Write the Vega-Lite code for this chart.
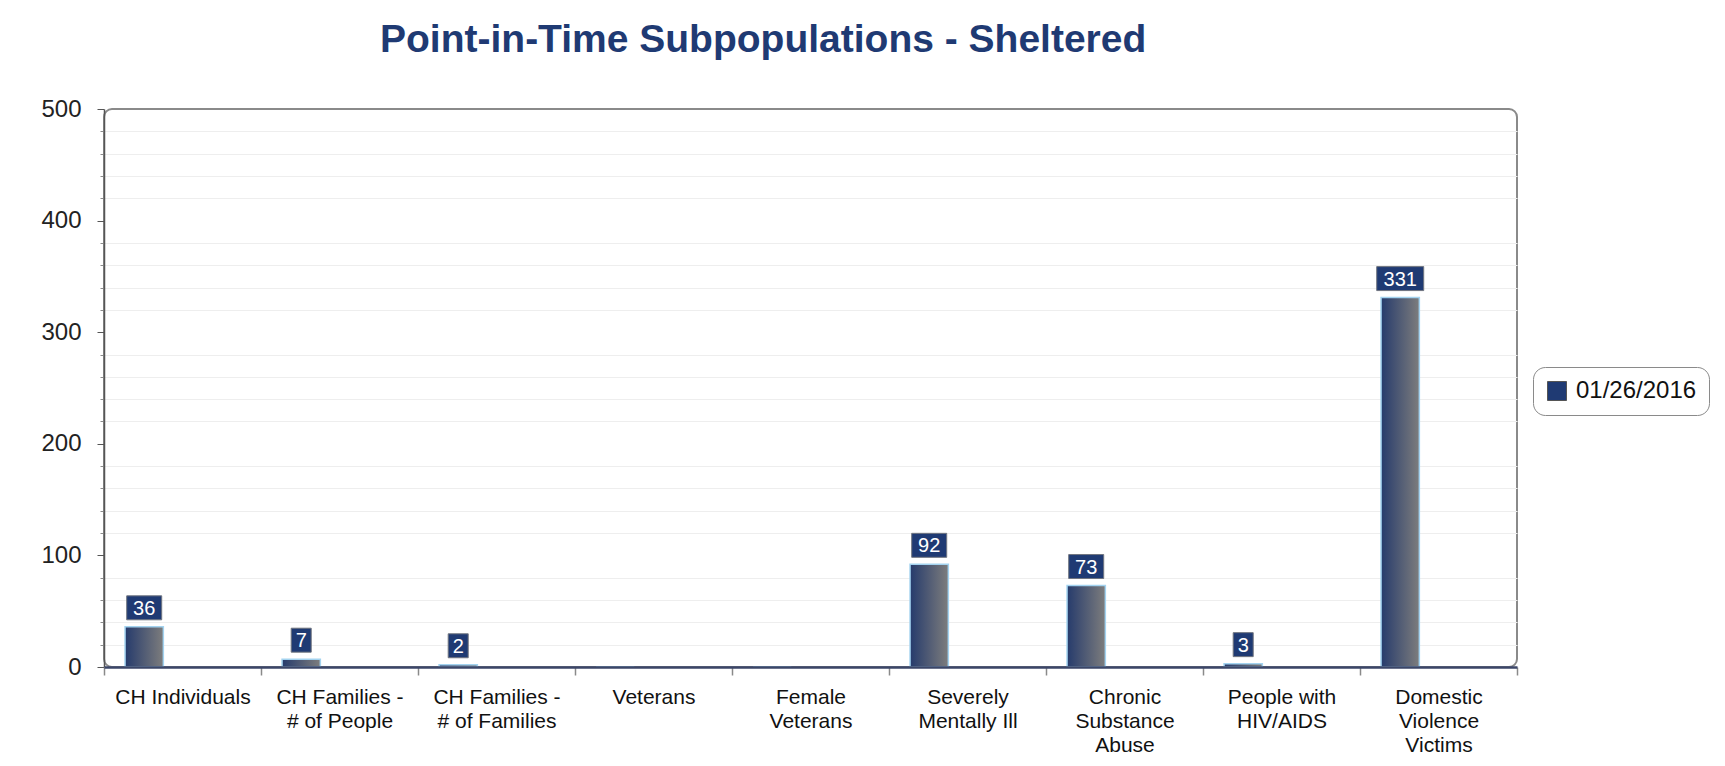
{
  "$schema": "https://vega.github.io/schema/vega-lite/v6.json",
  "width": 1413,
  "height": 558,
  "autosize": {"type": "none"},
  "padding": {"left": 104, "top": 109, "right": 208, "bottom": 99},
  "background": "white",
  "title": {
    "text": "Point-in-Time Subpopulations - Sheltered",
    "anchor": "start",
    "frame": "group",
    "dx": 276,
    "offset": 37,
    "fontSize": 39,
    "font": "Liberation Sans",
    "fontWeight": "bold",
    "color": "#1f3a73"
  },
  "data": {
    "values": [
      {"category": "CH Individuals", "date": "01/26/2016", "count": 36},
      {"category": "CH Families -\n# of People", "date": "01/26/2016", "count": 7},
      {"category": "CH Families -\n# of Families", "date": "01/26/2016", "count": 2},
      {"category": "Veterans", "date": "01/26/2016", "count": 0},
      {"category": "Female\nVeterans", "date": "01/26/2016", "count": 0},
      {"category": "Severely\nMentally Ill", "date": "01/26/2016", "count": 92},
      {"category": "Chronic\nSubstance\nAbuse", "date": "01/26/2016", "count": 73},
      {"category": "People with\nHIV/AIDS", "date": "01/26/2016", "count": 3},
      {"category": "Domestic\nViolence\nVictims", "date": "01/26/2016", "count": 331}
    ]
  },
  "encoding": {
    "x": {
      "field": "category",
      "type": "nominal",
      "sort": null,
      "scale": {"paddingInner": 0, "paddingOuter": 0},
      "axis": {
        "title": null,
        "labelAngle": 0,
        "labelExpr": "isValid(datum.value) ? split(datum.value, '\\n') : ''",
        "labelFont": "Liberation Sans",
        "labelFontSize": 21,
        "labelLineHeight": 24,
        "labelColor": "#111111",
        "labelPadding": 11,
        "tickBand": "extent",
        "tickSize": 8,
        "tickColor": "#8a8a8a",
        "tickWidth": 1.5,
        "domainColor": "#3b4668",
        "domainWidth": 2.5,
        "zindex": 1
      }
    },
    "xOffset": {
      "field": "date",
      "type": "nominal",
      "scale": {"domain": ["01/26/2016", "_b", "_c"], "paddingInner": 0, "paddingOuter": 0.55}
    }
  },
  "layer": [
    {
      "mark": {"type": "bar"},
      "encoding": {
        "y": {
          "field": "count",
          "type": "quantitative",
          "scale": {"domain": [0, 500], "nice": false},
          "axis": {
            "orient": "left",
            "title": null,
            "values": [20, 40, 60, 80, 120, 140, 160, 180, 220, 240, 260, 280, 320, 340, 360, 380, 420, 440, 460, 480],
            "labels": false,
            "domain": false,
            "tickSize": 4,
            "tickColor": "#8a8a8a",
            "gridColor": "#eeeeee",
            "gridWidth": 1
          }
        },
        "color": {
          "field": "date",
          "type": "nominal",
          "scale": {"range": ["#1f3a73"]},
          "legend": {
            "title": null,
            "orient": "none",
            "legendX": 1429,
            "legendY": 258,
            "symbolType": "square",
            "symbolSize": 361,
            "symbolStrokeColor": "#555555",
            "symbolStrokeWidth": 1,
            "labelFont": "Liberation Sans",
            "labelFontSize": 24,
            "labelColor": "#111111",
            "labelOffset": 7,
            "strokeColor": "#8a8a8a",
            "fillColor": "white",
            "cornerRadius": 12,
            "padding": 12
          }
        }
      }
    },
    {
      "mark": {
        "type": "bar",
        "fill": {
          "gradient": "linear",
          "x1": 0, "y1": 0, "x2": 1, "y2": 0,
          "stops": [
            {"offset": 0, "color": "#263b6c"},
            {"offset": 1, "color": "#7d7d7d"}
          ]
        },
        "stroke": "#a3d3f0",
        "strokeWidth": 1.5
      },
      "encoding": {
        "y": {
          "field": "count",
          "type": "quantitative",
          "axis": {
            "orient": "left",
            "title": null,
            "values": [0, 100, 200, 300, 400, 500],
            "labelFont": "Liberation Sans",
            "labelFontSize": 24,
            "labelColor": "#222222",
            "labelPadding": 16,
            "tickSize": 7,
            "tickColor": "#555555",
            "domainColor": "#555555",
            "domainWidth": 1.5,
            "gridColor": "#5a6ea8",
            "gridDash": [2, 2],
            "gridWidth": 1
          }
        }
      }
    },
    {
      "transform": [{"filter": "datum.count > 0"}],
      "mark": {
        "type": "point",
        "filled": true,
        "opacity": 1,
        "fill": "#1f3a73",
        "stroke": "#70757f",
        "strokeWidth": 1,
        "size": 2209,
        "yOffset": -19
      },
      "encoding": {
        "y": {"field": "count", "type": "quantitative", "axis": null},
        "shape": {
          "field": "count",
          "type": "nominal",
          "scale": {
            "domain": [36, 7, 2, 92, 73, 3, 331],
            "range": [
              "M-0.745,-0.51H0.745V0.51H-0.745Z",
              "M-0.426,-0.51H0.426V0.51H-0.426Z",
              "M-0.426,-0.51H0.426V0.51H-0.426Z",
              "M-0.745,-0.51H0.745V0.51H-0.745Z",
              "M-0.745,-0.51H0.745V0.51H-0.745Z",
              "M-0.426,-0.51H0.426V0.51H-0.426Z",
              "M-1,-0.51H1V0.51H-1Z"
            ]
          },
          "legend": null
        }
      }
    },
    {
      "transform": [{"filter": "datum.count > 0"}],
      "mark": {
        "type": "text",
        "color": "white",
        "baseline": "middle",
        "align": "center",
        "font": "Liberation Sans",
        "fontSize": 20,
        "yOffset": -18
      },
      "encoding": {
        "y": {"field": "count", "type": "quantitative", "axis": null},
        "text": {"field": "count", "type": "quantitative"}
      }
    }
  ],
  "resolve": {"axis": {"y": "independent"}},
  "config": {
    "view": {"stroke": "#8a8a8a", "strokeWidth": 2, "cornerRadius": 8}
  }
}
